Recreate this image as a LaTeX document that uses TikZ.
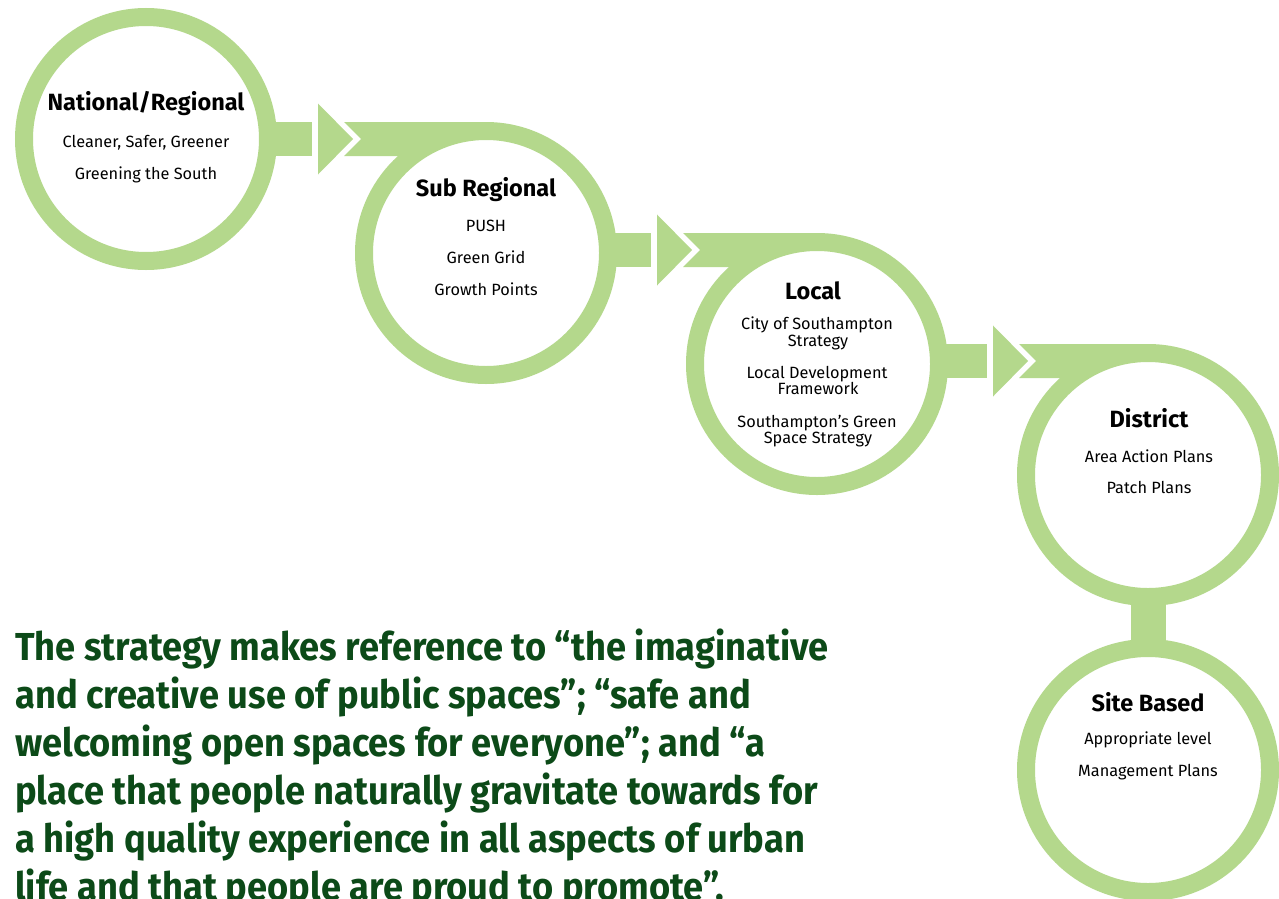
\documentclass[tikz,border=0pt]{standalone}
\usepackage{fontspec}
\setmainfont{Fira Sans}
\newfontfamily\quotefont[FakeStretch=0.93]{Fira Sans}
\usetikzlibrary{calc}
\definecolor{ringgreen}{RGB}{180,216,140}
\definecolor{textgreen}{RGB}{12,74,24}
\pgfdeclarelayer{bg}
\pgfsetlayers{bg,main}
\newcommand\greenlink[4]{% #1 from, #2 to, #3 tip x, #4 id
  \coordinate (m#4) at ($(#2.center)+(0,-114)$);
  \coordinate (a#4) at (#3,0 |- m#4);
  \fill[conn] ($(#1.center |- m#4)+(0,-17)$) rectangle ($(a#4)+(-41,17)$);
  \fill[conn] ($(a#4)+(-35,-35.5)$) -- (a#4) -- ($(a#4)+(-35,35.5)$) -- cycle;
  \fill[conn] ($(a#4)+(-9,-17)$) -- ($(a#4)+(8,0)$) -- ($(a#4)+(-9,17)$)
     -- ($(#2.center |- m#4)+(0,17)$) -- ($(#2.center |- m#4)+(0,-17)$) -- cycle;
}
\begin{document}
\begin{tikzpicture}[x=1pt,y=-1pt,
  ring/.style={circle,draw=ringgreen,line width=18pt,fill=white,minimum size=244pt,inner sep=0pt},
  conn/.style={fill=ringgreen},
  head/.style={anchor=base,inner sep=0pt,font=\bfseries\fontsize{23.5}{25}\selectfont},
  item/.style={anchor=base,inner sep=0pt,font=\fontsize{16.3}{18}\selectfont},
  quotetext/.style={anchor=base west,align=left,inner sep=0pt,text=textgreen,font=\quotefont\bfseries\fontsize{39}{48}\selectfont}]
\clip (0,0) rectangle (1279,899);

\node[ring] (c1) at (146,139) {};
\node[ring] (c2) at (486,253) {};
\node[ring] (c3) at (817,364) {};
\node[ring] (c4) at (1148,475) {};
\node[ring] (c5) at (1148,770) {};

\begin{pgfonlayer}{bg}
  \fill[white] (0,0) rectangle (1279,899);
  \greenlink{c1}{c2}{353}{1}
  \greenlink{c2}{c3}{692}{2}
  \greenlink{c3}{c4}{1028}{3}
  \fill[conn] ($(c4.center)+(-17.5,0)$) rectangle ($(c5.center)+(17.5,0)$);
\end{pgfonlayer}

\node[head] (h1) at (146,110) {National/Regional};
\node[item] (i1a) at (146,147) {Cleaner, Safer, Greener};
\node[item] (i1b) at (146,179) {Greening the South};

\node[head] (h2) at (486,196) {Sub Regional};
\node[item] (i2a) at (486,231) {PUSH};
\node[item] (i2b) at (486,263) {Green Grid};
\node[item] (i2c) at (486,295) {Growth Points};

\node[head] (h3) at (813,299) {Local};
\node[item] (i3a) at (817,329) {City of Southampton};
\node[item] (i3b) at (818,346) {Strategy};
\node[item] (i3c) at (817,378) {Local Development};
\node[item] (i3d) at (818,394) {Framework};
\node[item] (i3e) at (817,427) {Southampton’s Green};
\node[item] (i3f) at (818,443) {Space Strategy};

\node[head] (h4) at (1149,427) {District};
\node[item] (i4a) at (1149,462) {Area Action Plans};
\node[item] (i4b) at (1149,493) {Patch Plans};

\node[head] (h5) at (1148,711) {Site Based};
\node[item] (i5a) at (1148,744) {Appropriate level};
\node[item] (i5b) at (1148,776) {Management Plans};

\node[quotetext] (q) at (15,900) {The strategy makes reference to “the imaginative\\
and creative use of public spaces”; “safe and\\
welcoming open spaces for everyone”; and “a\\
place that people naturally gravitate towards for\\
a high quality experience in all aspects of urban\\
life and that people are proud to promote”.};
\end{tikzpicture}
\end{document}
